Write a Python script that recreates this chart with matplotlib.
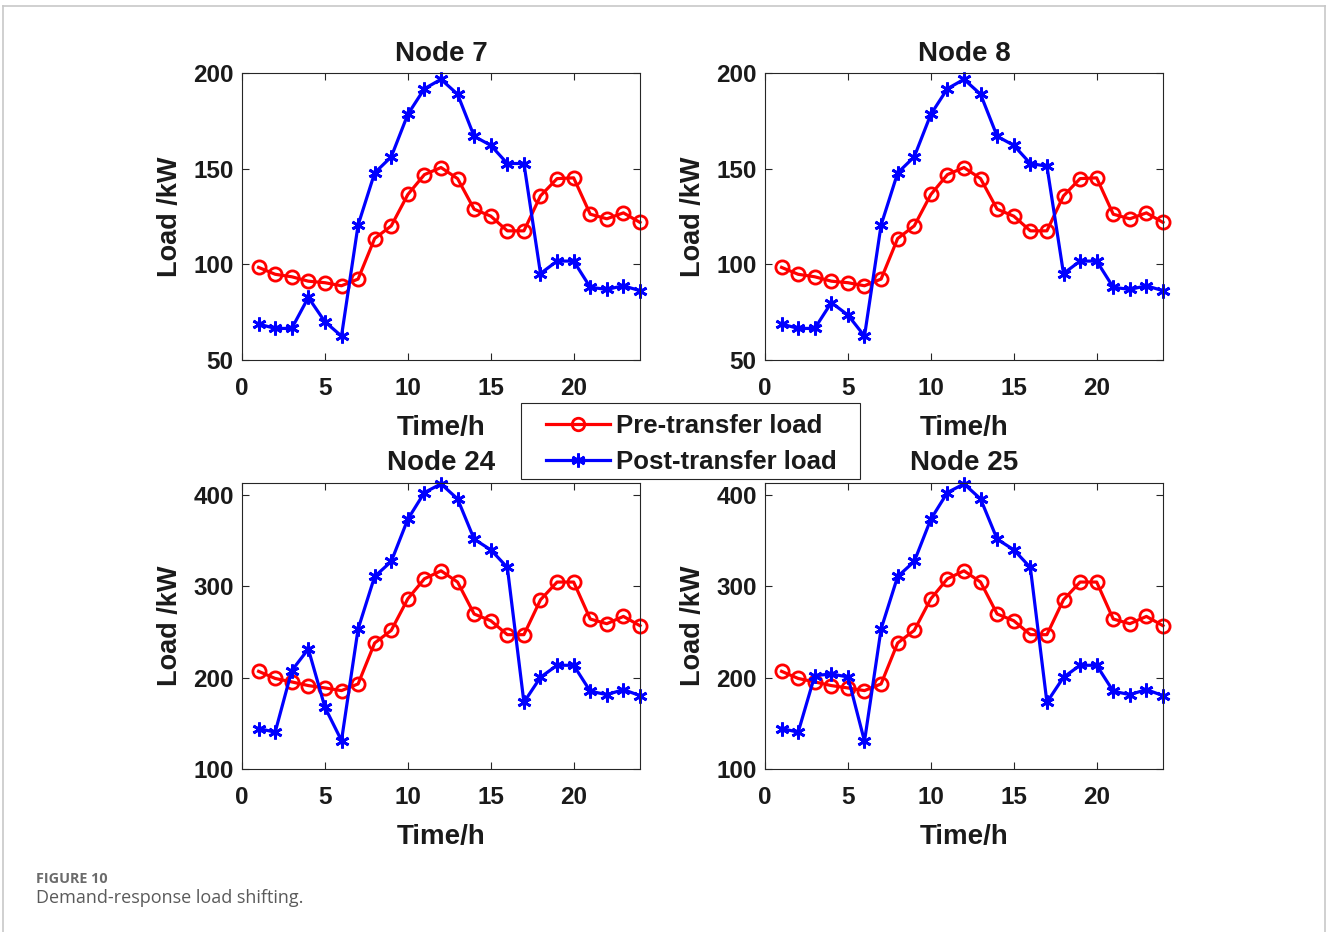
import matplotlib
matplotlib.use("Agg")
import matplotlib.pyplot as plt
from matplotlib.lines import Line2D
from matplotlib.patches import Rectangle

plt.rcParams['font.family'] = ['Liberation Sans', 'DejaVu Sans']

hours = list(range(1, 25))

pre_7 = [98.4, 94.8, 93.5, 91.2, 90.4, 88.8, 92.3, 113.5, 120.1, 136.5, 146.9, 150.6,
         144.8, 128.8, 125.2, 117.5, 117.5, 135.8, 144.8, 145.2, 126.2, 123.8, 126.9, 121.9]
post_7 = [68.8, 66.5, 66.5, 82.7, 70.0, 62.5, 120.5, 147.8, 156.2, 178.4, 191.8, 196.7,
          188.9, 166.9, 162.2, 152.7, 152.7, 95.2, 101.7, 101.7, 88.0, 86.9, 88.8, 86.2]

pre_8 = [98.4, 94.8, 93.5, 91.2, 90.4, 88.8, 92.3, 113.5, 120.1, 136.5, 146.9, 150.6,
         144.8, 128.8, 125.2, 117.5, 117.5, 135.8, 144.8, 145.2, 126.2, 123.8, 126.9, 121.9]
post_8 = [68.8, 66.5, 66.5, 80.0, 73.5, 62.5, 120.5, 147.8, 156.2, 178.4, 191.8, 196.7,
          188.9, 166.9, 162.2, 152.7, 151.3, 95.2, 101.7, 101.7, 88.0, 86.9, 88.8, 86.2]

pre_24 = [206.9, 199.1, 195.3, 191.3, 188.7, 185.8, 193.1, 237.9, 251.7, 286.3, 308.2, 316.9,
          304.6, 269.6, 262.3, 247.0, 247.0, 285.2, 304.6, 304.6, 264.1, 259.0, 267.0, 256.8]
post_24 = [144.3, 140.3, 207.7, 231.3, 167.6, 131.1, 253.2, 310.7, 327.1, 373.4, 402.6, 412.0,
           395.6, 351.5, 339.9, 320.6, 173.0, 200.4, 213.5, 213.5, 185.1, 181.4, 186.9, 180.3]

pre_25 = [206.9, 199.1, 195.3, 191.3, 188.7, 185.8, 193.1, 237.9, 251.7, 286.3, 308.2, 316.9,
          304.6, 269.6, 262.3, 247.0, 247.0, 285.2, 304.6, 304.6, 264.1, 259.0, 267.0, 256.8]
post_25 = [144.3, 140.3, 202.2, 204.0, 200.7, 130.4, 253.2, 310.7, 327.1, 373.4, 402.6, 412.0,
           395.6, 351.5, 339.9, 320.6, 173.0, 200.4, 213.5, 213.5, 185.1, 181.4, 186.9, 180.3]

titles = ["Node 7", "Node 8", "Node 24", "Node 25"]
pre_all = [pre_7, pre_8, pre_24, pre_25]
post_all = [post_7, post_8, post_24, post_25]
ylims = [(50, 200), (50, 200), (100, 413), (100, 413)]
yticks = [[50, 100, 150, 200], [50, 100, 150, 200], [100, 200, 300, 400], [100, 200, 300, 400]]
xticks = [0, 5, 10, 15, 20]

W, H = 1327, 932
fig = plt.figure(figsize=(W / 100, H / 100), dpi=100)

# axes boxes in pixels (left, top, right, bottom)
boxes = [(242, 73, 640, 360), (765, 73, 1163, 360),
         (242, 483, 640, 769), (765, 483, 1163, 769)]

txt = '#1a1a1a'
asterisk = (6, 2, 0)
for i, (l, t, r, b) in enumerate(boxes):
    ax = fig.add_axes([l / W, 1 - b / H, (r - l) / W, (b - t) / H])
    ax.plot(hours, pre_all[i], color='#ff0000', lw=2.3, marker='o', ms=9.5,
            mfc='none', mec='#ff0000', mew=2.0, label='Pre-transfer load', clip_on=False)
    ax.plot(hours, post_all[i], color='#0000ff', lw=2.3, marker=asterisk, ms=10,
            mec='#0000ff', mew=2.0, label='Post-transfer load', clip_on=False)
    ax.set_xlim(0, 24)
    ax.set_ylim(*ylims[i])
    ax.set_xticks(xticks)
    ax.set_yticks(yticks[i])
    ax.tick_params(direction='in', top=True, right=True, length=5, width=0.8,
                   labelsize=17.5, colors='#262626', labelcolor=txt)
    ax.tick_params(axis='x', pad=12)
    ax.tick_params(axis='y', pad=6)
    for lab in ax.get_xticklabels() + ax.get_yticklabels():
        lab.set_fontweight('bold')
    for s in ax.spines.values():
        s.set_color('#262626')
        s.set_linewidth(0.8)
    ax.set_title(titles[i], fontsize=20, fontweight='bold', color=txt, pad=9)
    ax.set_xlabel('Time/h', fontsize=20, fontweight='bold', color=txt, labelpad=11)
    ax.set_ylabel('Load /kW', fontsize=19.5, fontweight='bold', color=txt, labelpad=7)

# legend frame drawn explicitly (MATLAB-style padding)
fig.add_artist(Rectangle((521 / W, 1 - 479 / H), (860 - 521) / W, (479 - 403) / H,
                         transform=fig.transFigure, facecolor='white',
                         edgecolor='#262626', lw=0.8, zorder=5))
handles = [Line2D([], [], color='#ff0000', lw=2.3, marker='o', ms=9, mfc='none',
                  mec='#ff0000', mew=2.0),
           Line2D([], [], color='#0000ff', lw=2.3, marker=asterisk, ms=10,
                  mec='#0000ff', mew=2.0)]
leg = fig.legend(handles, ['Pre-transfer load', 'Post-transfer load'],
                 loc='center left', bbox_to_anchor=(525 / W, 1 - 444 / H),
                 frameon=False, prop={'weight': 'bold', 'size': 18.5},
                 handlelength=2.5, borderpad=0.3, labelspacing=0.5,
                 handletextpad=0.25)
leg.set_zorder(6)
for t_ in leg.get_texts():
    t_.set_color(txt)

# outer frame lines
fig.add_artist(Line2D([3 / W, 3 / W], [0, 1 - 6 / H], color='#c8c8c8', lw=1.2))
fig.add_artist(Line2D([3 / W, 1325 / W], [1 - 6 / H, 1 - 6 / H], color='#c8c8c8', lw=1.2))
fig.add_artist(Line2D([1325 / W, 1325 / W], [0, 1 - 6 / H], color='#c8c8c8', lw=1.2))

fig.text(36 / W, 1 - 879 / H, 'FIGURE 10', fontsize=10.4, fontweight='bold',
         color='#6b6b6b', family=['Open Sans', 'DejaVu Sans'], va='center')
fig.text(36 / W, 1 - 898 / H, 'Demand-response load shifting.', fontsize=13,
         color='#5a5a5a', family=['Open Sans', 'DejaVu Sans'], va='center')

fig.savefig('out.png', dpi=100)
